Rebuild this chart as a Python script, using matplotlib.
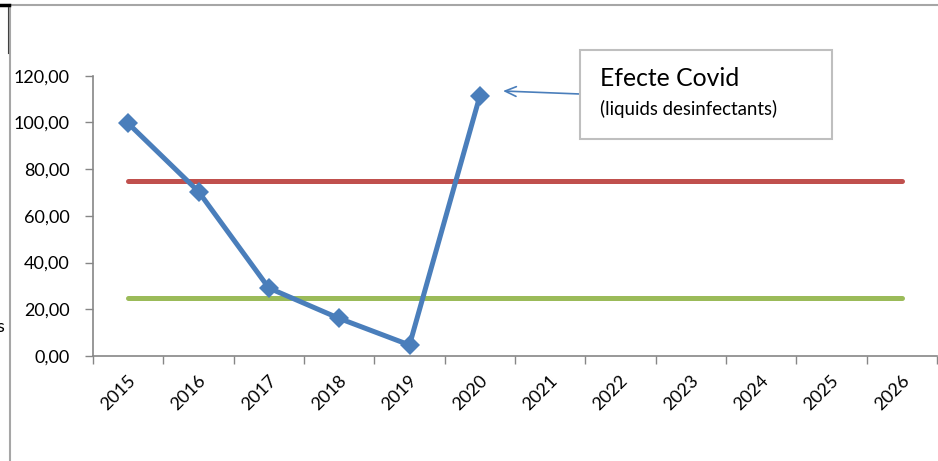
import matplotlib
matplotlib.use('Agg')
import matplotlib.pyplot as plt
import matplotlib.transforms as mtransforms
from matplotlib.lines import Line2D
from matplotlib.patches import Rectangle

plt.rcParams['font.family'] = ['Lato', 'DejaVu Sans']

# dades
anys = ['2015', '2016', '2017', '2018', '2019', '2020',
        '2021', '2022', '2023', '2024', '2025', '2026']
valors = [99.6, 70.4, 29.1, 16.1, 4.7, 111.3]
limit_alt = [75.0] * len(anys)
limit_baix = [25.0] * len(anys)

W, H = 938, 461
fig = plt.figure(figsize=(W / 100, H / 100), dpi=100)
ax = fig.add_axes([93 / W, 1 - 356 / H, 844 / W, (356 - 75.7) / H])

x = list(range(len(anys)))
ax.plot(x, limit_alt, color='#C0504D', lw=3.6, solid_capstyle='round', zorder=2)
ax.plot(x, limit_baix, color='#9BBB59', lw=3.6, solid_capstyle='round', zorder=2)
ax.plot(x[:len(valors)], valors, color='#4A7EBB', lw=3.6, marker='D',
        markersize=10.5, markeredgewidth=0, zorder=3)

ax.set_xlim(-0.5, len(anys) - 0.5)
ax.set_ylim(0, 120)
ax.set_yticks(range(0, 121, 20))
ax.set_yticklabels([f'{v:.2f}'.replace('.', ',') for v in range(0, 121, 20)])
ax.set_xticks(x)
ax.set_xticklabels(anys, rotation=45, ha='right', va='center', rotation_mode='anchor')
ax.set_xticks([i - 0.5 for i in range(len(anys) + 1)], minor=True)
ax.tick_params(axis='x', which='major', length=0, pad=16, labelsize=13)
ax.tick_params(axis='x', which='minor', length=6, color='#868686', width=1)
ax.tick_params(axis='y', length=6, color='#868686', width=1, pad=11, labelsize=13)

# desplaçar una mica les etiquetes cap a la dreta
despl = mtransforms.ScaledTranslation(5 / 100, 0, fig.dpi_scale_trans)
for lbl in ax.get_xticklabels():
    lbl.set_transform(lbl.get_transform() + despl)

for s in ['top', 'right']:
    ax.spines[s].set_visible(False)
for s in ['left', 'bottom']:
    ax.spines[s].set_color('#868686')
    ax.spines[s].set_linewidth(1.2)

# requadre exterior
fig.add_artist(Line2D([10 / W, 1], [1 - 5 / H] * 2, color='#a6a6a6', lw=1.5))
fig.add_artist(Line2D([10 / W] * 2, [0, 1 - 5 / H], color='#a6a6a6', lw=1.5))
fig.add_artist(Line2D([0, 9 / W], [1 - 5.5 / H] * 2, color='black', lw=2.5))
fig.add_artist(Line2D([8 / W] * 2, [1 - 7 / H, 1 - 53 / H], color='#404040', lw=0.8))
fig.text(0, 1 - 327 / H, 's', fontsize=13, ha='center', va='center')

# nota
fig.add_artist(Rectangle((580 / W, 1 - 139 / H), 252 / W, 89 / H,
                         transform=fig.transFigure, facecolor='white',
                         edgecolor='#bfbfbf', lw=1.5, zorder=5))
fig.text(600 / W, 1 - 78 / H, 'Efecte Covid', fontsize=17.8, va='center', zorder=6)
fig.text(600 / W, 1 - 109 / H, '(liquids desinfectants)', fontsize=13.4,
         va='center', zorder=6)
ax.annotate('', xy=(503, H - 91), xycoords='figure pixels',
            xytext=(580, H - 94), textcoords='figure pixels',
            arrowprops=dict(arrowstyle='->,head_length=0.8,head_width=0.35',
                            color='#4A7EBB', lw=1.2, shrinkA=0, shrinkB=0))

fig.savefig('out.png', dpi=100)
